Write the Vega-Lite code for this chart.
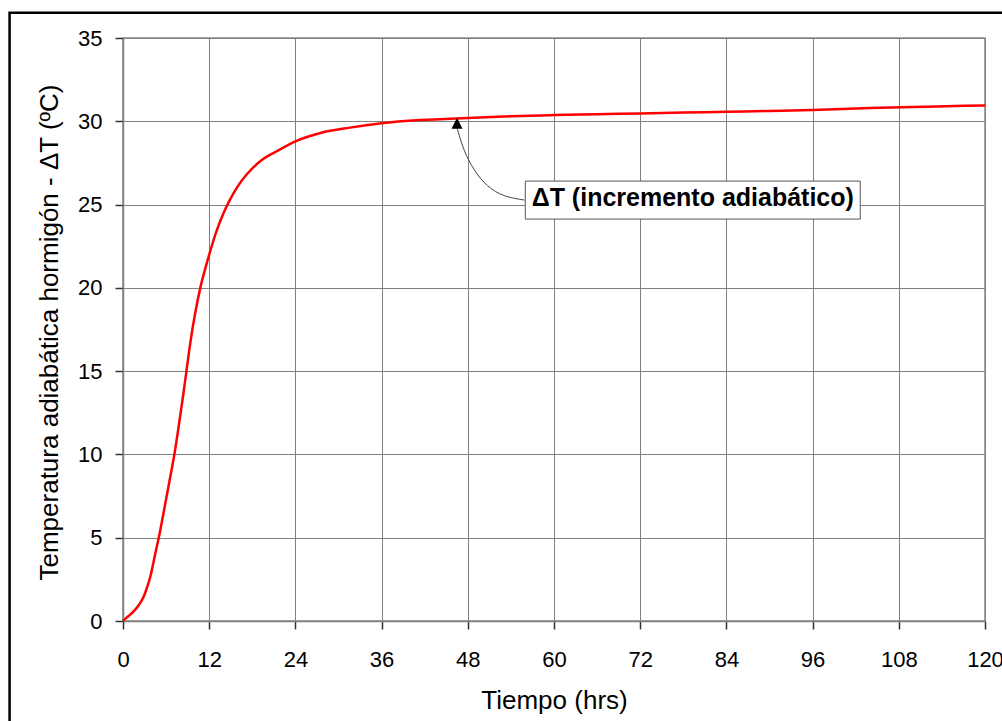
{
  "$schema": "https://vega.github.io/schema/vega-lite/v6.json",
  "width": 862,
  "height": 583,
  "autosize": {"type": "none"},
  "padding": {"left": 123, "top": 38, "right": 17, "bottom": 100},
  "background": "white",
  "config": {
    "font": "Liberation Sans",
    "view": {"stroke": "#888888", "strokeWidth": 1.5}
  },
  "datasets": {
    "curve": [
      {"t": 0, "T": 0},
      {"t": 0.5, "T": 0.2},
      {"t": 1.0, "T": 0.38},
      {"t": 1.7, "T": 0.68},
      {"t": 2.3, "T": 1.02},
      {"t": 2.87, "T": 1.46},
      {"t": 3.3, "T": 1.95},
      {"t": 3.8, "T": 2.66},
      {"t": 4.5, "T": 4.06},
      {"t": 5.1, "T": 5.26},
      {"t": 5.89, "T": 7.06},
      {"t": 6.58, "T": 8.66},
      {"t": 7.19, "T": 10.1},
      {"t": 7.74, "T": 11.65},
      {"t": 8.44, "T": 13.75},
      {"t": 8.8, "T": 14.9},
      {"t": 9.37, "T": 16.7},
      {"t": 10.06, "T": 18.5},
      {"t": 10.76, "T": 20.0},
      {"t": 11.45, "T": 21.15},
      {"t": 12.05, "T": 22.07},
      {"t": 12.85, "T": 23.2},
      {"t": 14.0, "T": 24.5},
      {"t": 14.9, "T": 25.3},
      {"t": 15.9, "T": 26.05},
      {"t": 17.3, "T": 26.85},
      {"t": 19.1, "T": 27.6},
      {"t": 21.4, "T": 28.2},
      {"t": 24.0, "T": 28.8},
      {"t": 27.5, "T": 29.3},
      {"t": 31.6, "T": 29.62},
      {"t": 36.0, "T": 29.88},
      {"t": 41.4, "T": 30.07},
      {"t": 48.0, "T": 30.2},
      {"t": 54.0, "T": 30.3},
      {"t": 60.0, "T": 30.37},
      {"t": 66.0, "T": 30.42},
      {"t": 72.0, "T": 30.47},
      {"t": 78.0, "T": 30.52},
      {"t": 84.0, "T": 30.57},
      {"t": 90.0, "T": 30.62},
      {"t": 96.0, "T": 30.68},
      {"t": 104.0, "T": 30.8},
      {"t": 112.0, "T": 30.88},
      {"t": 120.0, "T": 30.95}
    ],
    "connector": [
      {"t": 55.9, "T": 25.27},
      {"t": 52.98, "T": 25.47},
      {"t": 50.67, "T": 26.07},
      {"t": 48.8, "T": 27.07},
      {"t": 47.41, "T": 28.27},
      {"t": 46.72, "T": 29.28},
      {"t": 46.5, "T": 29.6}
    ],
    "arrowhead": [{"t": 46.5, "T": 29.88}],
    "box": [{"t": 56.0, "t2": 102.63, "T": 26.41, "T2": 24.13}],
    "label": [{"t": 79.32, "T": 24.91, "text": "ΔT (incremento adiabático)"}],
    "frame": [{"t": -15.79, "t2": 140, "T": 36.52, "T2": -12}]
  },
  "encoding": {
    "x": {
      "field": "t",
      "type": "quantitative",
      "scale": {"domain": [0, 120], "nice": false, "zero": false},
      "axis": {
        "title": "Tiempo (hrs)",
        "values": [0, 12, 24, 36, 48, 60, 72, 84, 96, 108, 120],
        "grid": true,
        "gridColor": "#808080",
        "gridWidth": 1,
        "domainColor": "#808080",
        "domainWidth": 1.5,
        "tickColor": "#333333",
        "tickSize": 8,
        "tickWidth": 1.5,
        "labelFontSize": 22,
        "labelColor": "#000000",
        "labelPadding": 20,
        "labelFlush": false,
        "labelOverlap": false,
        "titleFontSize": 26,
        "titleFontWeight": "normal",
        "titleColor": "#000000",
        "titleBaseline": "alphabetic",
        "titleY": 87
      }
    },
    "y": {
      "field": "T",
      "type": "quantitative",
      "scale": {"domain": [0, 35], "nice": false, "zero": false},
      "axis": {
        "title": "Temperatura adiabática hormigón - ΔT (ºC)",
        "values": [0, 5, 10, 15, 20, 25, 30, 35],
        "grid": true,
        "gridColor": "#808080",
        "gridWidth": 1,
        "domainColor": "#808080",
        "domainWidth": 1.5,
        "tickColor": "#333333",
        "tickSize": 8,
        "tickWidth": 1.5,
        "labelFontSize": 22,
        "labelColor": "#000000",
        "labelPadding": 13,
        "labelFlush": false,
        "labelOverlap": false,
        "titleFontSize": 26,
        "titleFontWeight": "normal",
        "titleColor": "#000000",
        "titleBaseline": "alphabetic",
        "titleX": -66,
        "titleY": 294
      }
    }
  },
  "layer": [
    {
      "data": {"name": "frame"},
      "mark": {"type": "rect", "fill": null, "stroke": "#000000", "strokeWidth": 2.5, "clip": false},
      "encoding": {"x2": {"field": "t2"}, "y2": {"field": "T2"}}
    },
    {
      "data": {"name": "curve"},
      "mark": {"type": "line", "color": "#ff0000", "strokeWidth": 2.5, "interpolate": "monotone"}
    },
    {
      "data": {"name": "connector"},
      "mark": {"type": "line", "color": "#444444", "strokeWidth": 1, "interpolate": "basis"}
    },
    {
      "data": {"name": "arrowhead"},
      "mark": {"type": "point", "shape": "M0,-1L1,1L-1,1Z", "size": 121, "filled": true, "color": "#000000", "opacity": 1}
    },
    {
      "data": {"name": "box"},
      "mark": {"type": "rect", "fill": "#ffffff", "stroke": "#555555", "strokeWidth": 1},
      "encoding": {"x2": {"field": "t2"}, "y2": {"field": "T2"}}
    },
    {
      "data": {"name": "label"},
      "mark": {"type": "text", "fontSize": 25, "fontWeight": "bold", "color": "#000000", "align": "center", "baseline": "alphabetic"},
      "encoding": {"text": {"field": "text"}}
    }
  ]
}
